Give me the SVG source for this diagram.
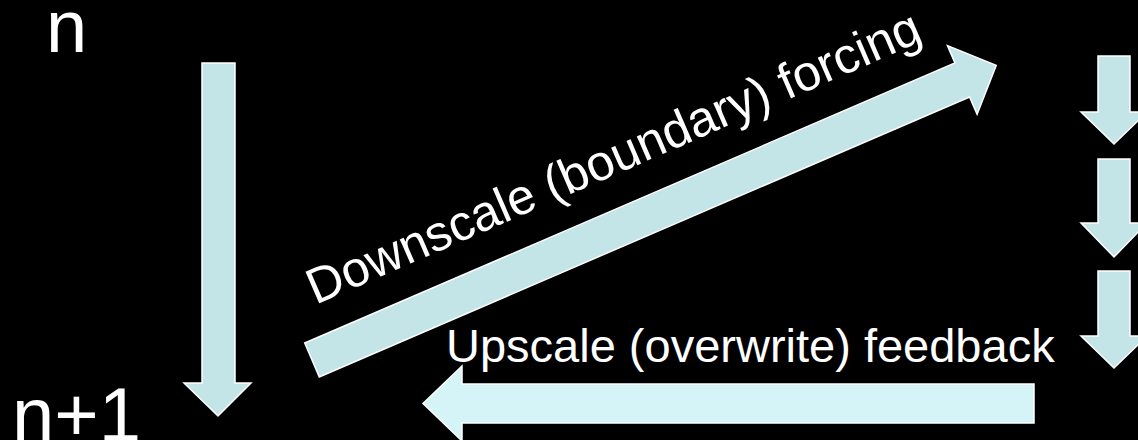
<svg xmlns="http://www.w3.org/2000/svg" width="1138" height="440" viewBox="0 0 1138 440">
<style>
.arr{fill:#C4E5E8;stroke:#FFFFFF;stroke-width:1.5;stroke-linejoin:miter}
.arr2{fill:#D5F4F7;stroke:#FFFFFF;stroke-width:1.5}
.t{font-family:"Liberation Sans",Arial,sans-serif;fill:#FFFFFF}
</style>
<rect width="1138" height="440" fill="#000000"/>
<g id="label-n"><text class="t" x="46" y="52" font-size="74">n</text></g>
<g id="label-n1"><text class="t" x="12" y="441" font-size="76">n+1</text></g>
<g id="connectors">
<path id="time-arrow" class="arr" d="M202,63 H235 V383 H251 L218,416 L184,383 H202 Z"/>
<path id="downscale-arrow" class="arr" transform="translate(312,360) rotate(-23.3)" d="M0,-18.5 H708 V-37.5 L745,0 L708,37.5 V18.5 H0 Z"/>
<path id="upscale-arrow" class="arr2" d="M1034,384 V423 H462 V441 L423,403.5 L462,366 V384 Z"/>
<path id="fine-step-1" class="arr" d="M1098,56 H1130 V112 H1147 L1114,144 L1081,112 H1098 Z"/>
<path id="fine-step-2" class="arr" d="M1098,159 H1130 V223 H1147 L1114,257 L1081,223 H1098 Z"/>
<path id="fine-step-3" class="arr" d="M1098,271 H1130 V336 H1147 L1114,368 L1081,336 H1098 Z"/>
</g>
<g id="label-downscale"><text class="t" transform="translate(315.5,305) rotate(-23.5)" font-size="50">Downscale (boundary) forcing</text></g>
<g id="label-upscale"><text class="t" x="446" y="362" font-size="47">Upscale (overwrite) feedback</text></g>
</svg>
